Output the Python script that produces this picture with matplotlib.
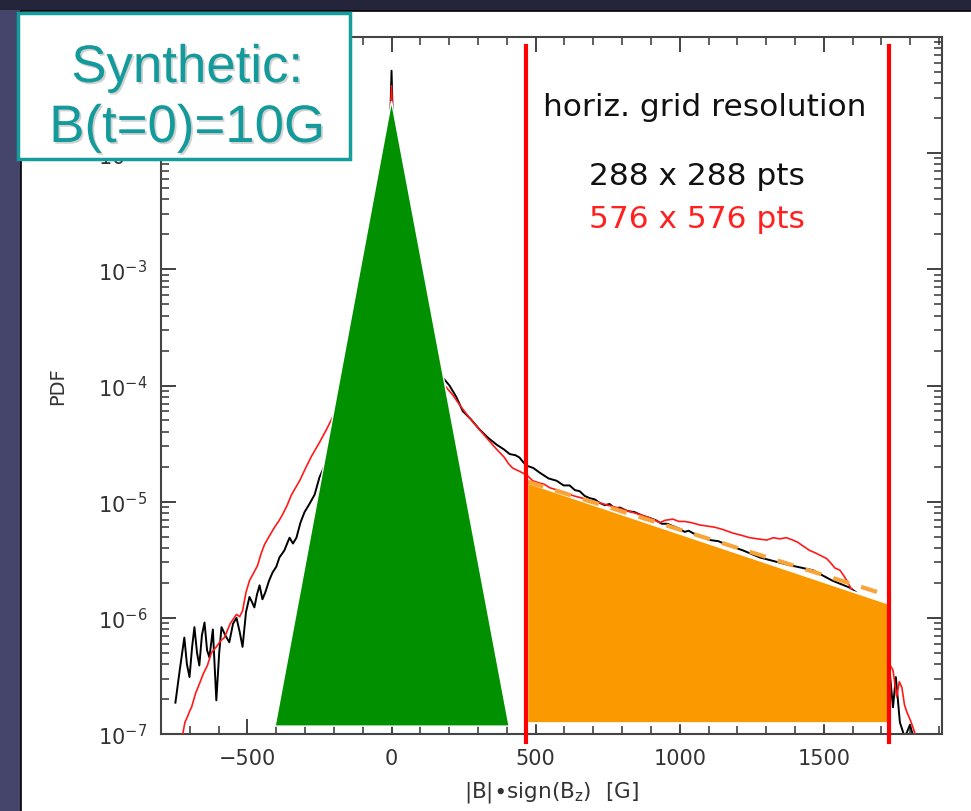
import matplotlib
matplotlib.use('Agg')
import matplotlib.pyplot as plt
import matplotlib.patheffects as pe
from matplotlib.patches import Rectangle, Polygon
import matplotlib.transforms as mtransforms
from matplotlib.ticker import LogLocator, MultipleLocator
import numpy as np

# PDF of |B|*sign(Bz) (log10 of PDF)
black_x = [-750, -735, -719, -710, -701, -692, -684, -675, -667, -658,
           -649, -640, -632, -620, -608, -598, -590, -577, -563, -550,
           -538, -527, -517, -505, -493, -485, -476, -467, -458, -448,
           -438, -425, -413, -400, -389, -372, -354, -342, -330, -316,
           -302, -285, -267, -250, -220, -180, -140, -100, -60, -30,
           -10, 0, 10, 30, 60, 100, 150, 201, 225, 247,
           275, 306, 335, 365, 390, 410, 430, 444, 457, 469,
           492, 514, 545, 573, 597, 618, 636, 653, 670, 688,
           705, 722, 740, 757, 775, 792, 818, 844, 870, 896,
           917, 938, 957, 976, 997, 1017, 1031, 1045, 1075, 1104,
           1134, 1163, 1220, 1278, 1370, 1462, 1530, 1590, 1650, 1694,
           1715, 1740, 1750, 1764, 1781, 1799, 1816]
black_logpdf = [-6.73, -6.45, -6.17, -6.40, -6.51, -6.25, -6.08, -6.30, -6.41, -6.15,
                -6.04, -6.28, -6.34, -6.10, -6.71, -6.30, -6.08, -6.15, -6.21, -6.05,
                -6.00, -6.12, -6.25, -5.95, -5.82, -5.86, -5.91, -5.80, -5.72, -5.84,
                -5.78, -5.68, -5.61, -5.56, -5.48, -5.42, -5.31, -5.36, -5.31, -5.18,
                -5.09, -5.02, -4.94, -4.79, -4.62, -4.40, -4.15, -3.85, -3.40, -2.90,
                -2.20, -1.29, -2.25, -2.95, -3.35, -3.65, -3.85, -4.00, -4.10, -4.22,
                -4.29, -4.38, -4.45, -4.51, -4.55, -4.59, -4.60, -4.62, -4.66, -4.69,
                -4.71, -4.75, -4.80, -4.82, -4.86, -4.86, -4.90, -4.91, -4.95, -4.97,
                -4.98, -5.01, -5.03, -5.02, -5.06, -5.05, -5.08, -5.09, -5.12, -5.14,
                -5.16, -5.19, -5.19, -5.21, -5.23, -5.26, -5.25, -5.27, -5.30, -5.33,
                -5.34, -5.37, -5.42, -5.48, -5.54, -5.59, -5.68, -5.74, -5.85, -5.91,
                -6.10, -6.77, -6.51, -6.90, -7.03, -6.92, -7.07]

red_x = [-726, -717, -708, -700, -694, -680, -667, -653, -639, -625,
         -608, -594, -580, -560, -538, -527, -517, -505, -493, -480,
         -465, -453, -441, -425, -406, -392, -378, -362, -347, -333,
         -319, -298, -278, -264, -250, -226, -190, -150, -100, -60,
         -30, -10, 0, 10, 30, 60, 100, 150, 212, 240,
         271, 305, 340, 365, 392, 405, 420, 445, 469, 490,
         514, 530, 549, 575, 601, 632, 663, 692, 722, 750,
         781, 820, 861, 896, 931, 950, 976, 997, 1017, 1040,
         1069, 1095, 1122, 1150, 1184, 1215, 1243, 1270, 1302, 1325,
         1347, 1370, 1392, 1410, 1427, 1451, 1470, 1486, 1510, 1525,
         1538, 1556, 1570, 1580, 1597, 1625, 1660, 1690, 1712, 1728,
         1740, 1753, 1762, 1771, 1780, 1788, 1800, 1809, 1826]
red_logpdf = [-7.02, -6.90, -6.85, -6.80, -6.77, -6.65, -6.57, -6.48, -6.41, -6.30,
              -6.25, -6.20, -6.17, -6.05, -5.97, -5.99, -5.94, -5.78, -5.68, -5.62,
              -5.55, -5.45, -5.37, -5.30, -5.22, -5.17, -5.11, -5.03, -4.94, -4.88,
              -4.82, -4.71, -4.61, -4.55, -4.49, -4.38, -4.20, -3.95, -3.60, -3.20,
              -2.70, -2.10, -1.42, -2.15, -2.80, -3.30, -3.65, -3.90, -4.08, -4.18,
              -4.28, -4.38, -4.48, -4.55, -4.62, -4.67, -4.71, -4.74, -4.77, -4.82,
              -4.84, -4.85, -4.88, -4.90, -4.92, -4.95, -4.97, -4.99, -5.01, -5.03,
              -5.05, -5.08, -5.11, -5.14, -5.18, -5.16, -5.15, -5.17, -5.17, -5.18,
              -5.20, -5.21, -5.22, -5.24, -5.27, -5.29, -5.31, -5.32, -5.33, -5.31,
              -5.32, -5.31, -5.33, -5.35, -5.38, -5.42, -5.44, -5.46, -5.49, -5.53,
              -5.57, -5.59, -5.64, -5.68, -5.76, -5.90, -6.08, -6.22, -6.34, -6.40,
              -6.45, -6.68, -6.55, -6.60, -6.75, -6.81, -6.88, -6.94, -7.07]

# overlay shapes
core_x = [-404, 0, 408]
core_pdf = [1.17e-7, 2.8e-2, 1.17e-7]
tail_x = [471, 1723, 1723, 471]
tail_pdf = [1.46e-5, 1.33e-6, 1.24e-7, 1.24e-7]
fit_x = [471, 1723]
fit_pdf = [1.49e-5, 1.56e-6]
cut_x = [467, 1727]

fig = plt.figure(figsize=(9.71, 8.12), dpi=100)
fig.patch.set_facecolor('#45456b')
fig.patches.append(Rectangle((0, 1 - 11 / 812), 1, 11 / 812, transform=fig.transFigure,
                             facecolor='#24243a', edgecolor='none', zorder=-10))
fig.patches.append(Rectangle((21 / 971, -0.01), 1, 1.01 - 12 / 812, transform=fig.transFigure,
                             facecolor='white', edgecolor='black', lw=1.2, zorder=-9))

ax = fig.add_axes([0.1658, 0.0948, 0.8043, 0.8584])
ax.set_facecolor('none')
ax.set_yscale('log')
ax.set_xlim(-800, 1910)
ax.set_ylim(1e-7, 1e-1)

ax.plot(black_x, 10 ** np.array(black_logpdf), color='black', lw=1.4, zorder=2)
ax.plot(red_x, 10 ** np.array(red_logpdf), color='#ff1a1a', lw=1.2, zorder=3)

ax.add_patch(Polygon(list(zip(core_x, core_pdf)), closed=True, facecolor='#009000',
                     edgecolor='white', lw=1.0, zorder=4))
ax.add_patch(Polygon(list(zip(tail_x, tail_pdf)), closed=True, facecolor='#fa9a00',
                     edgecolor='white', lw=1.5, zorder=4))
ax.plot(fit_x, fit_pdf, color='#f7a53a', lw=3, dashes=(4, 3), zorder=5)

trans = mtransforms.blended_transform_factory(ax.transData, ax.transAxes)
for xc in cut_x:
    ax.plot([xc, xc], [-0.012, 0.987], color='#ff0000', lw=3, transform=trans,
            clip_on=False, zorder=6)

ax.xaxis.set_major_locator(MultipleLocator(500))
ax.xaxis.set_minor_locator(MultipleLocator(100))
ax.yaxis.set_major_locator(LogLocator(base=10, numticks=10))
ax.yaxis.set_minor_locator(LogLocator(base=10, subs=np.arange(2, 10), numticks=20))
ax.tick_params(which='both', direction='in', top=True, right=True, colors='#333333')
ax.tick_params(which='major', length=11, width=1.3, labelsize=15, pad=10)
ax.tick_params(which='minor', length=5.5, width=1.1)
for s in ax.spines.values():
    s.set_color('#444444')
    s.set_linewidth(1.5)

ax.set_xlabel(r'|B|$\bullet$sign(B$_\mathrm{z}$)  [G]', fontsize=15.5, color='#333333', labelpad=8)
ax.set_ylabel('PDF', fontsize=14, color='#333333', labelpad=22)

ax.text(0.6966, 0.901, 'horiz. grid resolution', transform=ax.transAxes, fontsize=22.5,
        ha='center', va='center', color='#111111', zorder=7)
ax.text(0.686, 0.8006, '288 x 288 pts', transform=ax.transAxes, fontsize=22.5,
        ha='center', va='center', color='#111111', zorder=7)
ax.text(0.686, 0.740, '576 x 576 pts', transform=ax.transAxes, fontsize=22.5,
        ha='center', va='center', color='#ff2020', zorder=7)

# label box in the corner
box = Rectangle((18 / 971, 1 - 160 / 812), 332 / 971, 146 / 812, transform=fig.transFigure,
                facecolor='white', edgecolor='#159c9c', lw=2.5, zorder=10)
fig.patches.append(box)
shadow = [pe.SimplePatchShadow(offset=(1.3, -1.3), shadow_rgbFace='#999999', alpha=0.45), pe.Normal()]
fig.text(0.1926, 1 - 83 / 812, 'Synthetic:', fontsize=38, family='Liberation Sans',
         color='#149a9a', ha='center', va='baseline', zorder=11, path_effects=shadow)
fig.text(0.1926, 1 - 143 / 812, 'B(t=0)=10G', fontsize=38, family='Liberation Sans',
         color='#149a9a', ha='center', va='baseline', zorder=11, path_effects=shadow)

fig.savefig('out.png', dpi=100, facecolor=fig.get_facecolor())
